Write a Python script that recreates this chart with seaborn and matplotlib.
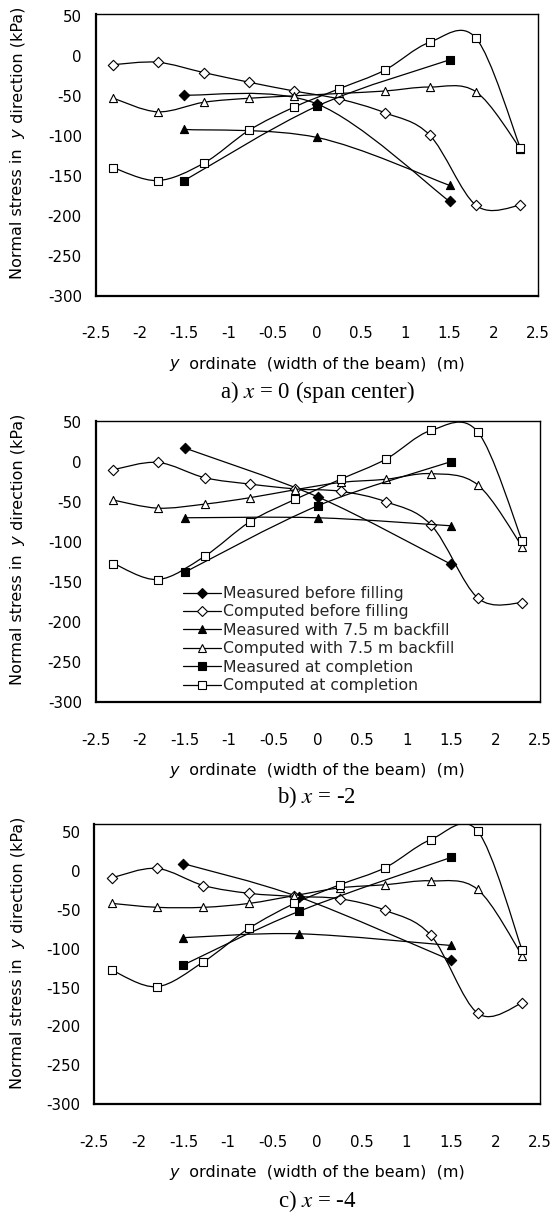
import numpy as np
import matplotlib
matplotlib.use("Agg")
import matplotlib.pyplot as plt
import seaborn as sns
from matplotlib.path import Path
from matplotlib.patches import PathPatch
from matplotlib.lines import Line2D

# ---------------- data ----------------
y_comp = [-2.3, -1.8, -1.275, -0.765, -0.255, 0.255, 0.765, 1.275, 1.8, 2.3]
y_meas_a = [-1.5, 0.0, 1.5]
y_meas_b = [-1.5, 0.0, 1.5]
y_meas_c = [-1.5, -0.2, 1.5]

a_meas_before = [-49, -60, -182]
a_comp_before = [-11, -8, -21, -33, -44, -54, -71, -99, -187, -187]
a_meas_75 = [-92, -102, -162]
a_comp_75 = [-53, -70, -58, -53, -50, -47, -44, -39, -45, -116]
a_meas_comp = [-156, -63, -5]
a_comp_comp = [-140, -156, -134, -93, -64, -41, -18, 17, 22, -115]

b_meas_before = [17, -44, -128]
b_comp_before = [-10, -1, -20, -28, -34, -37, -50, -79, -170, -176]
b_meas_75 = [-70, -70, -80]
b_comp_75 = [-48, -58, -53, -45, -35, -26, -22, -15, -29, -106]
b_meas_comp = [-138, -55, 0]
b_comp_comp = [-127, -147, -118, -75, -47, -22, 3, 39, 37, -99]

c_meas_before = [9, -34, -115]
c_comp_before = [-9, 3, -19, -29, -33, -36, -51, -83, -183, -170]
c_meas_75 = [-86, -81, -96]
c_comp_75 = [-42, -47, -47, -42, -32, -22, -18, -13, -24, -109]
c_meas_comp = [-121, -52, 17]
c_comp_comp = [-128, -149, -117, -74, -42, -18, 4, 40, 51, -102]

series_labels = ["Measured before filling", "Computed before filling",
                 "Measured with 7.5 m backfill", "Computed with 7.5 m backfill",
                 "Measured at completion", "Computed at completion"]
x_ticks = [-2.5, -2, -1.5, -1, -0.5, 0, 0.5, 1, 1.5, 2, 2.5]
x_tick_labels = ["-2.5", "-2", "-1.5", "-1", "-0.5", "0", "0.5", "1", "1.5", "2", "2.5"]
y_ticks = [50, 0, -50, -100, -150, -200, -250, -300]
captions = ["a) $x$ = 0 (span center)", "b) $x$ = -2", "c) $x$ = -4"]
x_label_parts = [("y", "italic"), ("  ordinate  (width of the beam)  (m)", "normal")]
y_label_parts = [("Normal stress in", "normal"), ("  y", "italic"),
                 (" direction (kPa)", "normal")]

# ---------------- style ----------------
sns.set_style("white")
SANS = ['DejaVu Sans']
plt.rcParams['font.family'] = SANS

markers = ['D', 'D', '^', '^', 's', 's']
filled = [True, False, True, False, True, False]
msize = [28, 28, 34, 34, 34, 34]


def smooth_path(xs, ys):
    P = np.column_stack([xs, ys]).astype(float)
    n = len(P)
    verts = [P[0]]
    codes = [Path.MOVETO]
    for i in range(n - 1):
        p0 = P[i - 1] if i > 0 else P[i]
        p1 = P[i]
        p2 = P[i + 1]
        p3 = P[i + 2] if i + 2 < n else P[i + 1]
        verts += [p1 + (p2 - p0) / 6.0, p2 - (p3 - p1) / 6.0, p2]
        codes += [Path.CURVE4] * 3
    return Path(verts, codes)


def draw_series(ax, xs, ys, k):
    z = 3 + k
    ax.add_patch(PathPatch(smooth_path(xs, ys), fill=False, edgecolor='black',
                           lw=0.9, zorder=z))
    sns.scatterplot(x=xs, y=ys, marker=markers[k], s=msize[k],
                    color='black' if filled[k] else 'white',
                    edgecolor='black', linewidth=0.8, ax=ax, zorder=z + 0.5,
                    legend=False)


fig = plt.figure(figsize=(5.52, 12.13), dpi=100)
W, H = 552.0, 1213.0


def rich(ax, parts, cx, cy, rotation=0, size=10.5):
    """Multi-style text centred on pixel (cx, cy) measured from top-left."""
    arts = []
    first = fig.text(0.5, 0.5, parts[0][0], fontsize=size, style=parts[0][1],
                     rotation=rotation, ha='left' if rotation == 0 else 'right',
                     va='bottom', color='black')
    arts.append(first)
    prev = first
    for s, st in parts[1:]:
        if rotation == 0:
            a = ax.annotate(s, xy=(1, 0), xycoords=prev, ha='left', va='bottom',
                            fontsize=size, style=st, color='black')
        else:
            a = ax.annotate(s, xy=(1, 1), xycoords=prev, ha='right', va='bottom',
                            rotation=rotation, fontsize=size, style=st,
                            color='black')
        arts.append(a)
        prev = a
    return arts, (cx, cy)


panels = [
    (95.7, 538.0, 14.3, 295.7, 52, y_meas_a,
     [a_meas_before, a_comp_before, a_meas_75, a_comp_75, a_meas_comp, a_comp_comp]),
    (95.7, 540.0, 420.7, 702.3, 51, y_meas_b,
     [b_meas_before, b_comp_before, b_meas_75, b_comp_75, b_meas_comp, b_comp_comp]),
    (94.3, 540.0, 824.0, 1104.3, 60, y_meas_c,
     [c_meas_before, c_comp_before, c_meas_75, c_comp_75, c_meas_comp, c_comp_comp]),
]
caption_baseline = [398, 803, 1207]

axes = []
rich_groups = []
for idx, (l, r, t, b, ytop, xm, data) in enumerate(panels):
    ax = fig.add_axes([l / W, 1 - b / H, (r - l) / W, (b - t) / H])
    axes.append(ax)
    for k, ys in enumerate(data):
        xs = xm if k % 2 == 0 else y_comp
        draw_series(ax, xs, ys, k)
    ax.set_xlim(-2.5, 2.5)
    ax.set_ylim(-300, ytop)
    ax.set_xticks(x_ticks)
    ax.set_xticklabels(x_tick_labels)
    ax.set_yticks(y_ticks)
    ax.set_yticklabels([str(v) for v in y_ticks])
    ax.tick_params(direction='in', length=4.5, width=1, labelsize=10.8,
                   colors='black')
    ax.tick_params(axis='x', pad=22)
    ax.tick_params(axis='y', pad=10)
    for s in ['left', 'bottom']:
        ax.spines[s].set_linewidth(1.6)
        ax.spines[s].set_color('black')
    for s in ['top', 'right']:
        ax.spines[s].set_linewidth(1.0)
        ax.spines[s].set_color('black')
    rich_groups.append(rich(ax, x_label_parts, 317, b + 68, 0, 11.5))
    rich_groups.append(rich(ax, y_label_parts, 18, t + 128.7, 90, 11.5))
    fig.text(317 / W, 1 - caption_baseline[idx] / H, captions[idx], ha='center',
             va='baseline', fontsize=16.5, family='Liberation Serif',
             math_fontfamily='stix', color='black')

# legend in panel b
handles = []
for k in range(6):
    handles.append(Line2D([], [], color='black', lw=0.9, marker=markers[k],
                          markersize=5.5 if markers[k] != 'D' else 4.8,
                          markerfacecolor='black' if filled[k] else 'white',
                          markeredgecolor='black', markeredgewidth=0.8))
axes[1].legend(handles, series_labels, loc='upper left',
               bbox_to_anchor=((183.3 - 95.7) / 444.3, (702.3 - 586) / 281.6),
               frameon=False, fontsize=11.3, handlelength=2.4, handletextpad=0.1,
               labelspacing=0.22, borderaxespad=0, borderpad=0)

# centre the multi-style labels
fig.canvas.draw()
renderer = fig.canvas.get_renderer()
for arts, (cx, cy) in rich_groups:
    bbs = [a.get_window_extent(renderer) for a in arts]
    x0 = min(bb.x0 for bb in bbs)
    x1 = max(bb.x1 for bb in bbs)
    y0 = min(bb.y0 for bb in bbs)
    y1 = max(bb.y1 for bb in bbs)
    dx = cx - (x0 + x1) / 2
    dy = (H - cy) - (y0 + y1) / 2
    px, py = arts[0].get_position()
    arts[0].set_position((px + dx / W, py + dy / H))

fig.savefig("out.png", dpi=100)
